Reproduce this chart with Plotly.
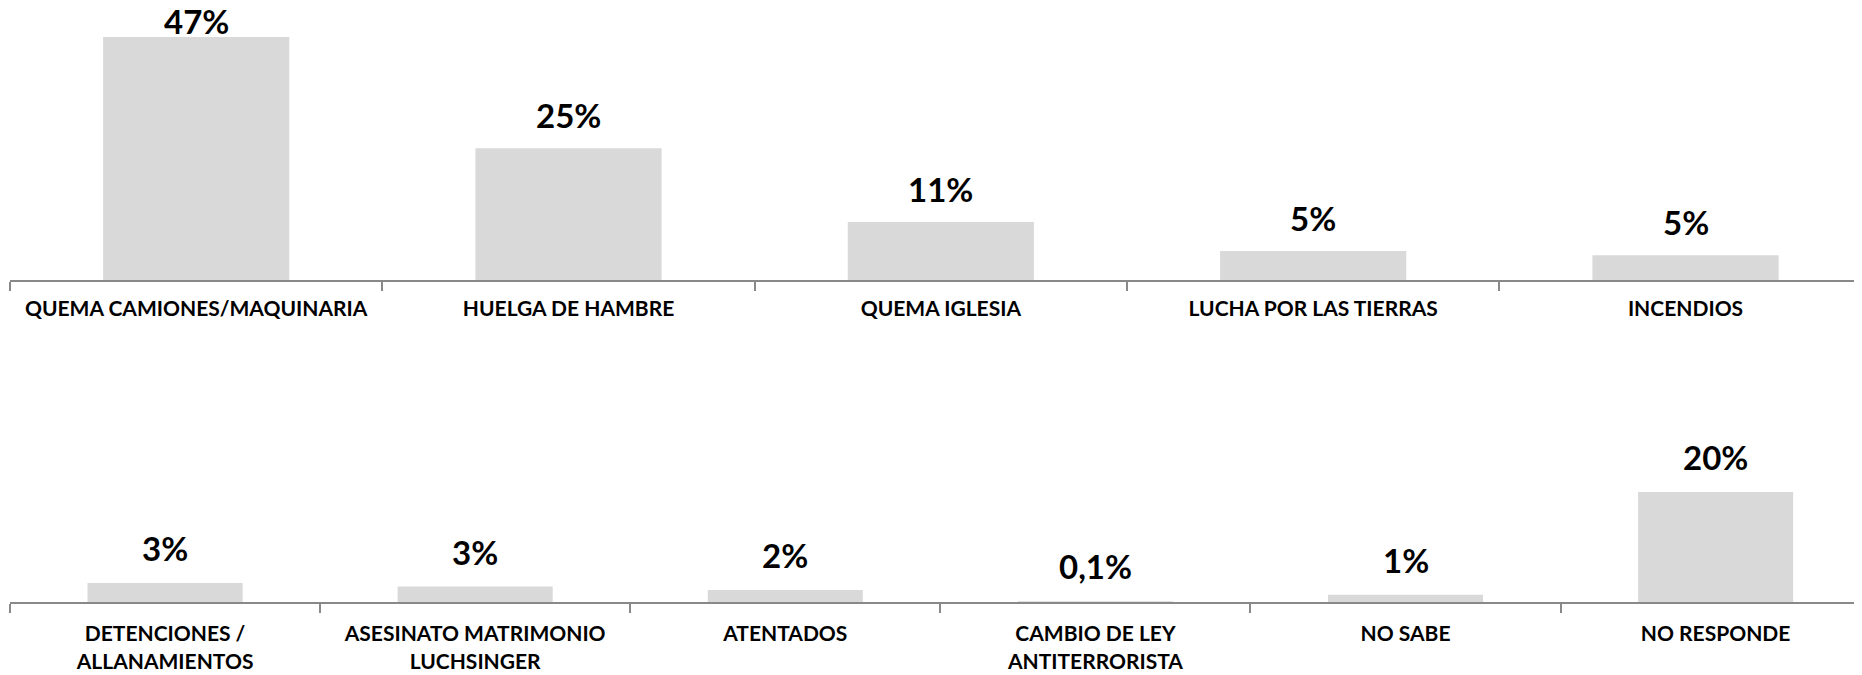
import plotly.graph_objects as go
from plotly.subplots import make_subplots

# top row
top_cats = ["QUEMA CAMIONES/MAQUINARIA", "HUELGA DE HAMBRE", "QUEMA IGLESIA",
            "LUCHA POR LAS TIERRAS", "INCENDIOS"]
top_vals = [47, 25.5, 11.2, 5.6, 4.8]
top_text = ["47%", "25%", "11%", "5%", "5%"]

# bottom row
bot_cats = ["DETENCIONES /<br>ALLANAMIENTOS", "ASESINATO MATRIMONIO<br>LUCHSINGER", "ATENTADOS",
            "CAMBIO DE LEY<br>ANTITERRORISTA", "NO SABE", "NO RESPONDE"]
bot_vals = [3.45, 2.8, 2.2, 0.1, 1.3, 20]
bot_text = ["3%", "3%", "2%", "0,1%", "1%", "20%"]

BAR = "#D9D9D9"
AXIS = "#898989"
FONT = "Lato"

# page body has an 8px margin, so the figure is a bit smaller than the window
W, H = 1854, 667

fig = make_subplots(rows=2, cols=1)

fig.add_trace(go.Bar(x=top_cats, y=top_vals, marker_color=BAR, marker_line_width=0,
                     width=0.5, showlegend=False), row=1, col=1)
fig.add_trace(go.Bar(x=bot_cats, y=bot_vals, marker_color=BAR, marker_line_width=0,
                     width=0.5, showlegend=False), row=2, col=1)

# percentage labels above the bars
for c, v, t in zip(top_cats, top_vals, top_text):
    shift = 16 if v == max(top_vals) else 33
    fig.add_annotation(x=c, y=v, xref="x", yref="y", text="<b>%s</b>" % t, showarrow=False,
                       yanchor="middle", yshift=shift, font=dict(family=FONT, size=33, color="black"))
for c, v, t in zip(bot_cats, bot_vals, bot_text):
    fig.add_annotation(x=c, y=v, xref="x2", yref="y2", text="<b>%s</b>" % t, showarrow=False,
                       yanchor="middle", yshift=35, font=dict(family=FONT, size=33, color="black"))

axis_style = dict(showline=True, linecolor=AXIS, linewidth=2, ticks="outside", tickson="boundaries",
                  ticklen=9, tickwidth=2, tickcolor=AXIS, showgrid=False, zeroline=False,
                  tickfont=dict(family=FONT, size=21, color="black", weight="bold"))

fig.update_xaxes(axis_style)
fig.update_xaxes(range=[-0.5, 4.474], domain=[0, 1], ticklabelstandoff=9, row=1, col=1)
fig.update_xaxes(range=[-0.5, 5.472], domain=[0, 1], ticklabelstandoff=12, row=2, col=1)

fig.update_yaxes(visible=False, showgrid=False, zeroline=False)
fig.update_yaxes(domain=[1 - 272 / H, 1], range=[0, 52.6], row=1, col=1)
fig.update_yaxes(domain=[1 - 594 / H, 0.55], range=[0, 53.45], row=2, col=1)

fig.update_layout(width=W, height=H, margin=dict(l=1.5, r=0, t=0, b=0),
                  plot_bgcolor="white", paper_bgcolor="white", bargap=0.5,
                  font=dict(family=FONT))

fig.write_html("out.html")
